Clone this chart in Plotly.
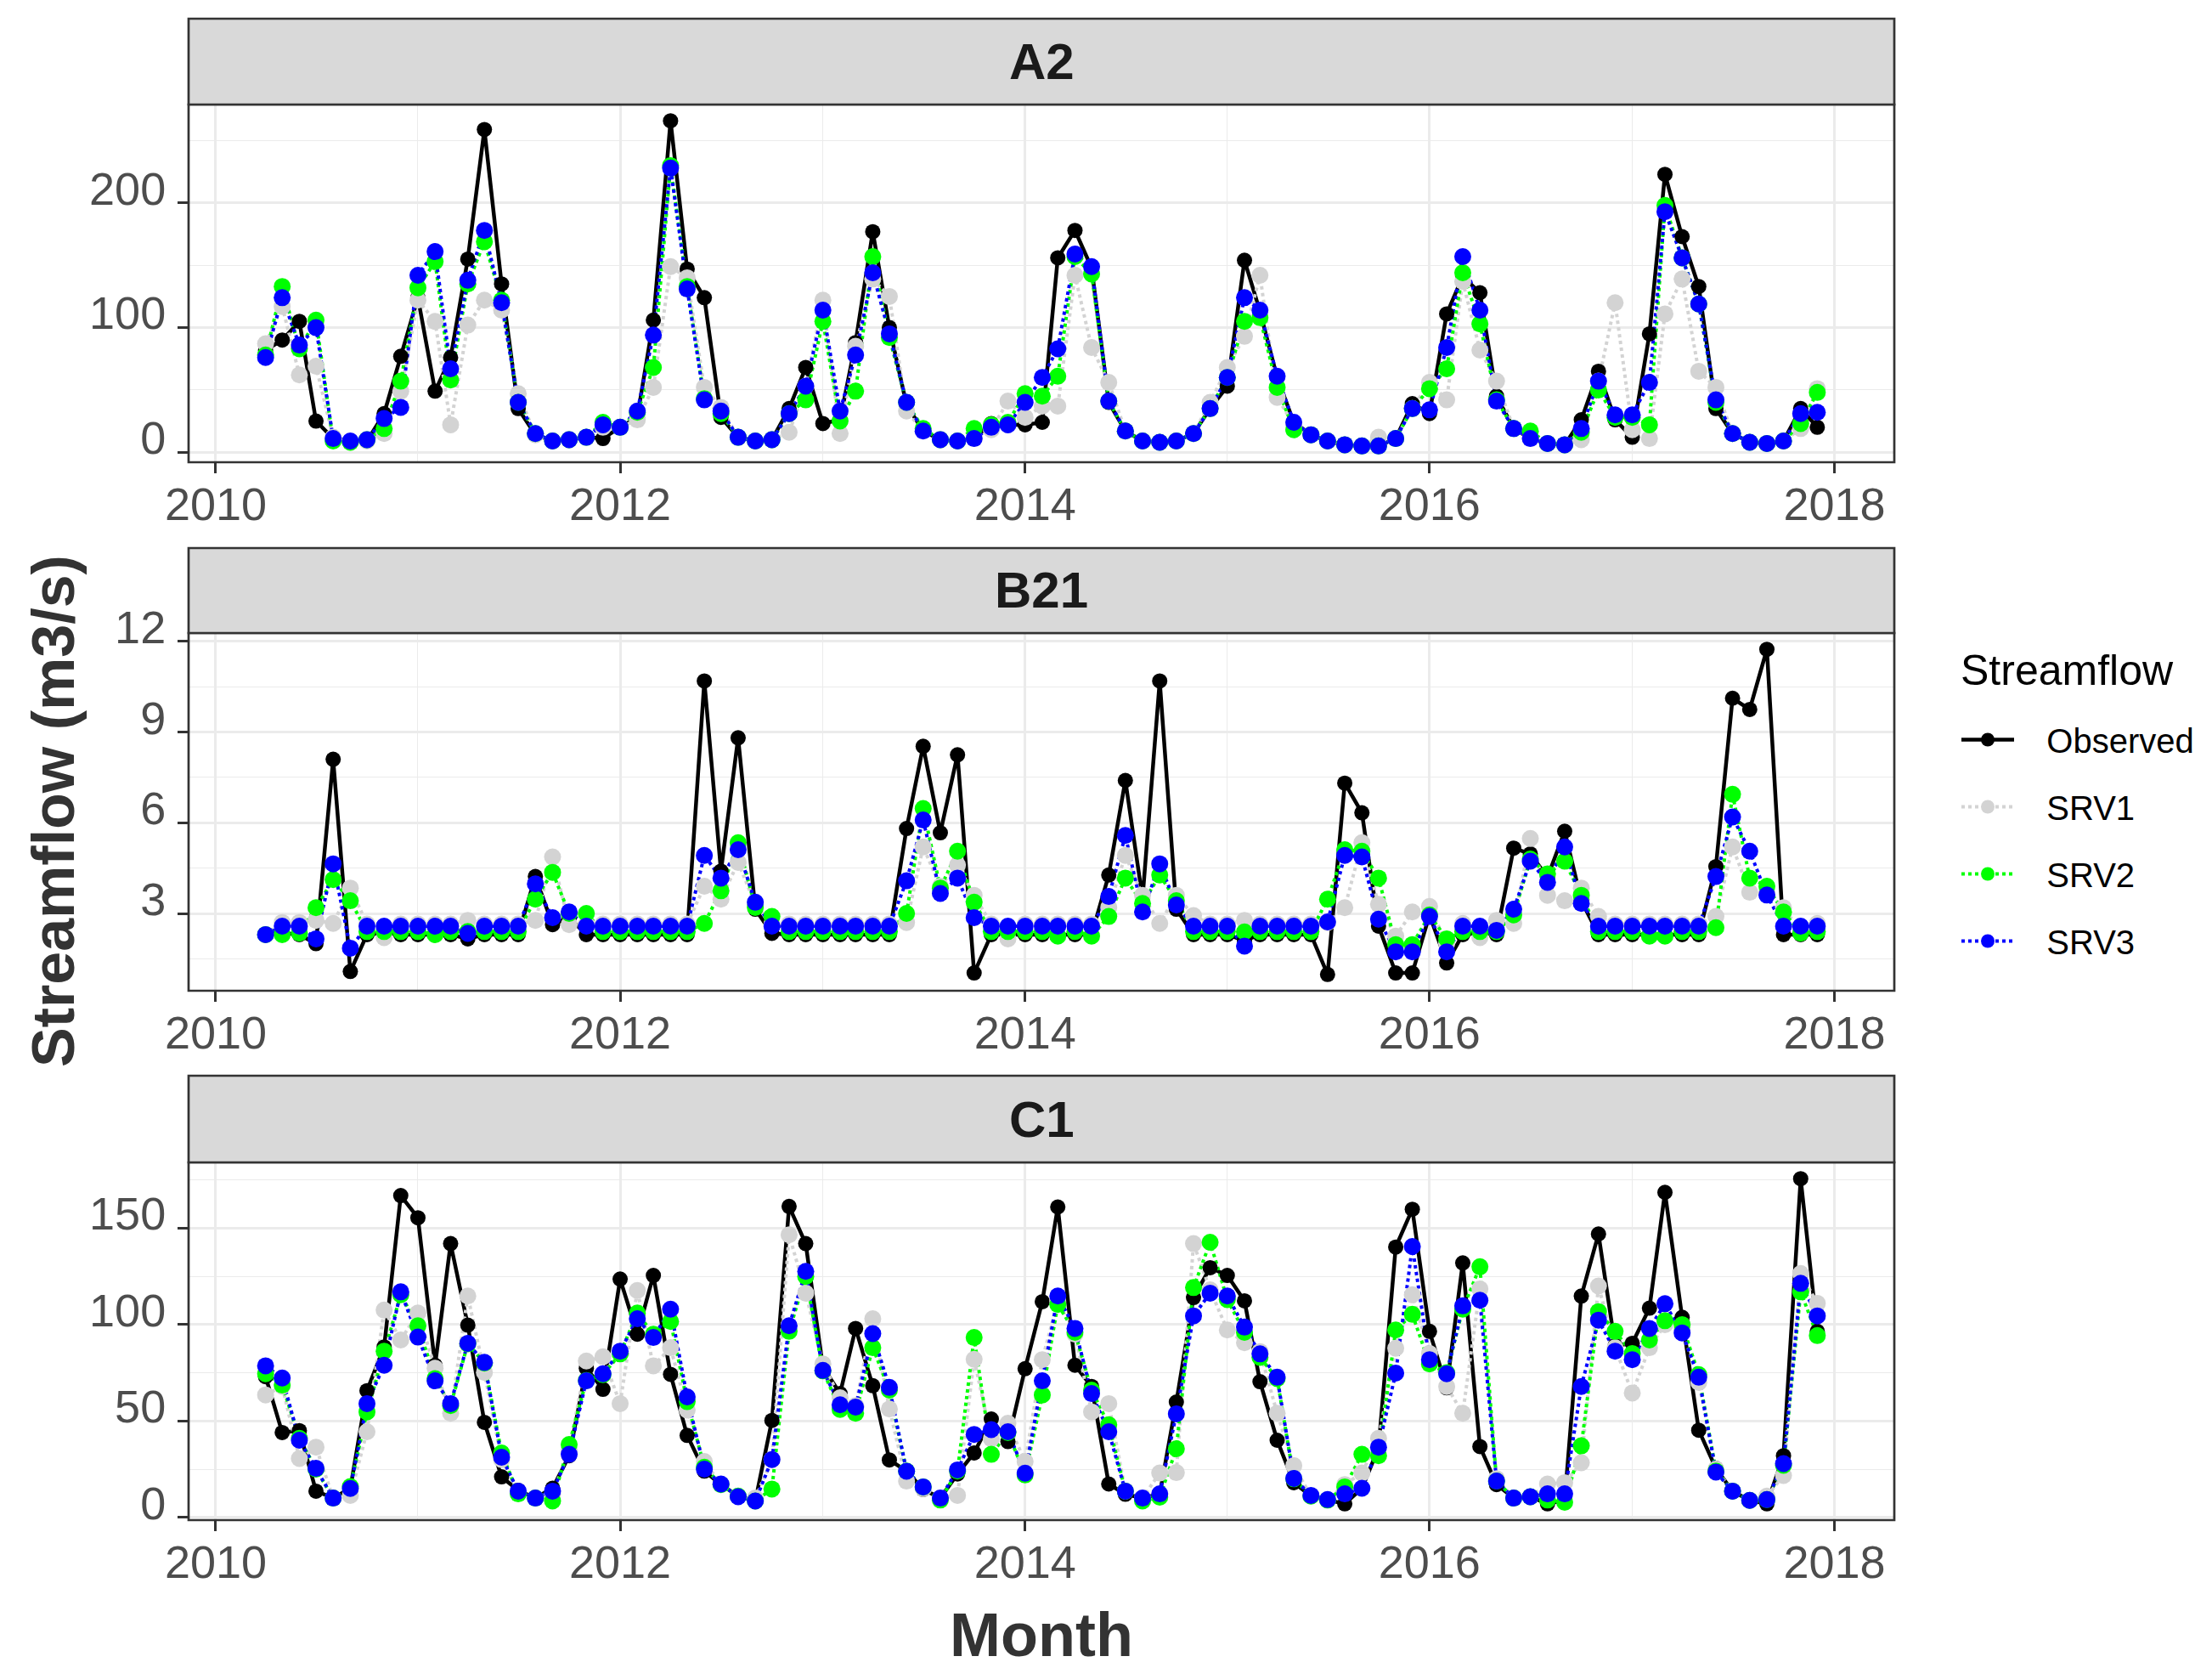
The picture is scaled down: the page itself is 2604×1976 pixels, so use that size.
import pandas as pd
import plotly.graph_objects as go

# ---------------- data (monthly, Apr 2010 - Dec 2017) ----------------
months = pd.date_range("2010-04-01", "2017-12-01", freq="MS")

series_names = ["Observed", "SRV1", "SRV2", "SRV3"]
panel_names = ["A2", "B21", "C1"]

a2_obs = [82, 90, 105, 25, 11, 9, 9, 31, 77, 124, 49, 76, 155, 259, 135, 35, 14, 9, 10, 12, 11,
          20, 28, 106, 266, 147, 124, 28, 12, 9, 10, 35, 68, 23, 26, 88, 177, 100, 38, 17, 10, 9,
          11, 23, 22, 22, 24, 156, 178, 148, 40, 17, 9, 8, 9, 15, 35, 53, 154, 113, 60, 24, 14,
          9, 6, 5, 5, 11, 39, 31, 111, 141, 128, 45, 19, 11, 7, 6, 26, 65, 26, 12, 95, 223, 173,
          133, 35, 15, 8, 7, 9, 35, 20]
a2_srv1 = [87, 117, 62, 69, 12, 8, 9, 15, 49, 122, 105, 22, 102, 122, 114, 47, 14, 9, 10, 12, 20,
           20, 26, 52, 149, 140, 52, 36, 12, 9, 10, 16, 53, 122, 15, 85, 139, 125, 33, 17, 10, 9,
           11, 18, 41, 28, 37, 37, 142, 84, 56, 17, 9, 8, 9, 15, 40, 68, 93, 142, 44, 22, 14,
           9, 6, 5, 12, 11, 35, 56, 42, 137, 82, 57, 19, 11, 7, 6, 10, 57, 120, 18, 11, 111, 139,
           65, 52, 15, 8, 7, 9, 19, 51]
a2_srv2 = [78, 133, 83, 106, 9, 8, 10, 19, 57, 132, 153, 58, 135, 169, 122, 40, 15, 9, 10, 12, 24,
           20, 32, 68, 230, 133, 43, 31, 12, 9, 10, 31, 42, 105, 25, 49, 157, 92, 40, 19, 10, 9,
           19, 22, 24, 47, 45, 61, 157, 143, 41, 17, 9, 8, 9, 15, 35, 60, 105, 108, 52, 18, 14,
           9, 6, 5, 5, 11, 35, 51, 67, 144, 103, 42, 19, 17, 7, 6, 16, 50, 28, 28, 22, 198, 156,
           119, 40, 15, 8, 7, 9, 23, 48]
a2_srv3 = [76, 124, 86, 100, 11, 9, 10, 27, 36, 142, 161, 67, 138, 178, 120, 40, 15, 9, 10, 12, 22,
           20, 33, 94, 228, 131, 42, 33, 12, 9, 10, 31, 53, 114, 33, 78, 144, 95, 40, 17, 10, 9,
           11, 20, 22, 40, 60, 83, 159, 149, 41, 17, 9, 8, 9, 15, 35, 60, 124, 114, 61, 24, 14,
           9, 6, 5, 5, 11, 35, 34, 84, 157, 114, 41, 19, 11, 7, 6, 19, 57, 30, 30, 56, 193, 156,
           119, 42, 15, 8, 7, 9, 31, 32]

b21_obs = [2.3, 2.35, 2.3, 2.0, 8.1, 1.08, 2.3, 2.35, 2.3, 2.3, 2.3, 2.3, 2.16, 2.3, 2.3, 2.3,
           4.22, 2.63, 2.86, 2.3, 2.3, 2.3, 2.3, 2.3, 2.3, 2.3, 10.69, 4.4, 8.81, 3.14, 2.34,
           2.3, 2.3, 2.3, 2.3, 2.3, 2.3, 2.3, 5.81, 8.53, 5.67, 8.25, 1.03, 2.3, 2.3, 2.3, 2.3,
           2.3, 2.3, 2.3, 4.27, 7.4, 3.5, 10.69, 3.14, 2.3, 2.3, 2.3, 2.1, 2.3, 2.3, 2.3, 2.3,
           0.98, 7.31, 6.33, 2.58, 1.03, 1.03, 2.95, 1.36, 2.3, 2.35, 2.3, 5.16, 4.97, 4.2, 5.72,
           3.42, 2.3, 2.3, 2.3, 2.3, 2.3, 2.3, 2.3, 4.55, 10.12, 9.75, 11.74, 2.3, 2.3, 2.3]
b21_srv1 = [2.3, 2.7, 2.7, 2.77, 2.67, 3.84, 2.65, 2.2, 2.65, 2.65, 2.65, 2.65, 2.77, 2.65, 2.65,
            2.65, 2.77, 4.87, 2.63, 2.65, 2.65, 2.65, 2.65, 2.65, 2.65, 2.65, 3.9, 3.47, 4.69, 3.3,
            2.65, 2.65, 2.65, 2.65, 2.65, 2.65, 2.65, 2.65, 2.7, 5.2, 3.9, 4.6, 3.6, 2.65, 2.16,
            2.65, 2.65, 2.65, 2.65, 2.65, 3.2, 4.92, 3.6, 2.67, 3.6, 2.93, 2.65, 2.65, 2.77, 2.65,
            2.65, 2.65, 2.65, 2.7, 3.19, 5.34, 3.3, 2.25, 3.05, 3.23, 2.0, 2.67, 2.2, 2.77, 2.67,
            5.48, 3.6, 3.42, 3.84, 2.9, 2.65, 2.65, 2.65, 2.65, 2.65, 2.65, 2.9, 5.2, 3.7, 3.7,
            3.19, 2.4, 2.67]
b21_srv2 = [2.3, 2.3, 2.35, 3.19, 4.12, 3.42, 2.4, 2.4, 2.4, 2.4, 2.3, 2.4, 2.4, 2.4, 2.4, 2.4,
            3.47, 4.36, 3.0, 3.0, 2.4, 2.4, 2.4, 2.4, 2.4, 2.4, 2.67, 3.75, 5.34, 3.2, 2.9, 2.4,
            2.4, 2.4, 2.4, 2.4, 2.4, 2.4, 3.0, 6.47, 3.84, 5.06, 3.37, 2.4, 2.4, 2.4, 2.4, 2.25,
            2.4, 2.25, 2.9, 4.17, 3.33, 4.27, 3.42, 2.4, 2.4, 2.4, 2.39, 2.4, 2.4, 2.4, 2.4, 3.47,
            5.11, 5.06, 4.17, 1.97, 1.97, 2.95, 2.16, 2.4, 2.4, 2.4, 2.95, 4.8, 4.31, 4.73, 3.6,
            2.4, 2.4, 2.4, 2.25, 2.25, 2.4, 2.4, 2.53, 6.94, 4.17, 3.9, 3.05, 2.35, 2.4]
b21_srv3 = [2.3, 2.58, 2.58, 2.16, 4.64, 1.85, 2.58, 2.58, 2.58, 2.58, 2.58, 2.58, 2.34, 2.58,
            2.58, 2.58, 3.98, 2.86, 3.05, 2.58, 2.58, 2.58, 2.58, 2.58, 2.58, 2.58, 4.92, 4.17,
            5.11, 3.37, 2.58, 2.58, 2.58, 2.58, 2.58, 2.58, 2.58, 2.58, 4.08, 6.09, 3.66, 4.17,
            2.86, 2.58, 2.58, 2.58, 2.58, 2.58, 2.58, 2.58, 3.56, 5.58, 3.05, 4.64, 3.28, 2.58,
            2.58, 2.58, 1.92, 2.58, 2.58, 2.58, 2.58, 2.72, 4.92, 4.87, 2.81, 1.73, 1.73, 2.9,
            1.73, 2.58, 2.58, 2.44, 3.14, 4.73, 4.03, 5.2, 3.33, 2.58, 2.58, 2.58, 2.58, 2.58,
            2.58, 2.58, 4.22, 6.19, 5.06, 3.61, 2.58, 2.58, 2.58]

c1_obs = [73, 44, 45, 13.6, 10, 15, 65.7, 88.4, 166.9, 155.4, 78.9, 142, 99.7, 49.3, 21, 14, 10,
          15.1, 32, 77.4, 66.4, 123.6, 95, 125.5, 74.2, 42.5, 24, 17, 11, 8.5, 50.3, 161.3, 142,
          78, 64.2, 98, 68.3, 29.8, 24, 14.5, 10, 22.5, 33.4, 51, 39.3, 77.1, 111.9, 161, 78.9,
          67.9, 17.3, 12, 10, 12, 59.8, 114, 129.5, 125.5, 112.3, 70.4, 40, 18, 11, 9, 7, 15, 36,
          140.2, 159.8, 96.5, 67.2, 132, 36.7, 17, 10, 10.7, 7, 9, 114.8, 147, 89.1, 90.3, 108.5,
          168.6, 103.8, 45.2, 25.4, 13.6, 8.8, 7, 32, 175.7, 96.5]
c1_srv1 = [63.5, 68, 30.5, 36.4, 10, 11.4, 44.4, 107.5, 92, 106, 77.4, 54, 114.8, 75.2, 30, 13, 10,
           12, 35, 81.1, 83.3, 59, 117.7, 78.6, 88, 55.7, 29, 17, 11, 10, 30, 146.6, 116.3, 79.6,
           62, 58, 103, 56.2, 18.8, 15, 10, 11.4, 82, 40.8, 48.8, 29, 81.8, 112, 95, 54.7, 59,
           13.6, 10, 23, 23.2, 142, 118, 97.2, 90.6, 86, 54, 26.8, 11, 9, 17, 23, 41, 87.7, 115.5,
           85, 67.9, 54, 118.5, 20, 10, 10.7, 17.3, 18, 28.3, 120, 88, 64.5, 88, 100, 98, 70, 25,
           13.6, 8.8, 11, 21.7, 126.5, 111]
c1_srv2 = [74.5, 68.6, 41, 25, 10, 16, 54.7, 86.2, 115.5, 99.4, 72, 58, 90, 80, 33.4, 12.2, 10,
           8.5, 37.8, 71, 74, 84.8, 106, 95, 101.6, 60, 26, 17, 11, 8.5, 14.7, 96.5, 125, 76, 56,
           54, 88, 66, 24, 15.8, 9, 24, 93.3, 32.7, 44, 22, 63.5, 110.4, 96, 66, 48, 13.6, 8.5,
           10.5, 35.6, 119.2, 142.7, 113, 96, 83, 72, 20, 11, 9, 15.8, 32.7, 32, 97.2, 105.3, 79.6,
           75, 108, 130, 18.8, 10, 10.7, 9, 7.8, 37.1, 106.7, 96.5, 85, 92, 102, 100, 74, 24,
           13.6, 8.8, 9.2, 27, 117, 94.3]
c1_srv3 = [78.6, 72.3, 40, 25.4, 10, 15, 59, 78.9, 117, 93.5, 70.8, 59, 90.3, 80.4, 31.2, 13.6,
           10, 13.6, 32.7, 70.8, 74.5, 86.2, 103, 93.3, 108, 62.5, 25, 17.3, 10.7, 8.5, 30, 99.4,
           127.6, 76.2, 58.4, 57.2, 95.3, 67.4, 23.9, 15.8, 10, 24.6, 43, 45.5, 44.4, 22.9, 70.8,
           114.8, 98, 64.2, 44.4, 13.6, 10, 12.2, 53.7, 104.5, 116.3, 114.8, 98.7, 84.8, 72.7,
           20.2, 11.4, 9.2, 12.2, 15.1, 36.4, 74.8, 140.5, 81.8, 74.5, 109.7, 112.6, 18.8, 10,
           10.7, 12.2, 12.2, 67.9, 102.3, 86.2, 81.8, 98, 110.8, 95.7, 72.7, 23.5, 13.6, 8.8, 9.2,
           27.9, 121.4, 104.5]

panel_data = [
    [a2_obs, a2_srv1, a2_srv2, a2_srv3],
    [b21_obs, b21_srv1, b21_srv2, b21_srv3],
    [c1_obs, c1_srv1, c1_srv2, c1_srv3],
]
y_dtick = [100, 3, 50]

# ---------------- styling ----------------
W, H = 2604, 1976
FONT = "Liberation Sans, Arial, sans-serif"
colors = ["#000000", "#D3D3D3", "#00FF00", "#0000FF"]
dashes = ["solid", "dot", "dot", "dot"]
msizes = [18, 20, 20, 20]
lwidths = [4.5, 4, 4, 4]

PX_L, PX_R = 222, 2230
panels_px = [(123, 544), (745, 1166), (1368, 1789)]   # panel top/bottom (px from top)
strips_px = [(22, 123), (645, 745), (1266, 1368)]

def fx(px):
    return px / W

def fy(py):
    return 1 - py / H

fig = go.Figure()

# lines first, then points (like geom_line + geom_point)
for p, series in enumerate(panel_data):
    ax = "" if p == 0 else str(p + 1)
    for s, vals in enumerate(series):
        fig.add_trace(go.Scatter(
            x=months, y=vals, mode="lines", xaxis="x" + ax, yaxis="y" + ax,
            line=dict(color=colors[s], width=lwidths[s], dash=dashes[s]),
            showlegend=False, hoverinfo="skip"))
for p, series in enumerate(panel_data):
    ax = "" if p == 0 else str(p + 1)
    for s, vals in enumerate(series):
        fig.add_trace(go.Scatter(
            x=months, y=vals, mode="markers", xaxis="x" + ax, yaxis="y" + ax,
            marker=dict(color=colors[s], size=msizes[s], line=dict(width=0)),
            name=series_names[s], showlegend=False))

# legend entries
NB = "\u00a0"
for s, name in enumerate(series_names):
    fig.add_trace(go.Scatter(
        x=[None], y=[None], mode="lines+markers", name=NB * 3 + name, legendgroup=name,
        line=dict(color=colors[s], width=lwidths[s], dash=dashes[s]),
        marker=dict(color=colors[s], size=msizes[s])))

layout = dict(
    width=W, height=H, autosize=False,
    margin=dict(l=0, r=0, t=0, b=0, autoexpand=False),
    paper_bgcolor="white", plot_bgcolor="white",
    font=dict(family=FONT, color="#000000"),
    showlegend=True,
    legend=dict(
        x=fx(2304), y=fy(838), xanchor="left", yanchor="top",
        font=dict(size=40, family=FONT, color="#000000"),
        itemwidth=62, tracegroupgap=24, bgcolor="rgba(0,0,0,0)",
    ),
)

shapes = []
annotations = []
for p in range(3):
    ax = "" if p == 0 else str(p + 1)
    top, bot = panels_px[p]
    vals_all = [v for ser in panel_data[p] for v in ser]
    lo, hi = min(vals_all), max(vals_all)
    pad = 0.05 * (hi - lo)
    layout["xaxis" + ax] = dict(
        domain=[fx(PX_L), fx(PX_R)], anchor="y" + ax, type="date",
        range=["2009-11-13", "2018-04-19"],
        tick0="2010-01-01", dtick="M24", tickformat="%Y",
        ticks="outside", ticklen=12, tickwidth=2.5, tickcolor="#333333",
        tickfont=dict(size=54, color="#4D4D4D", family=FONT),
        ticklabelstandoff=-10,
        showgrid=True, gridcolor="#EBEBEB", gridwidth=2.7,
        minor=dict(dtick="M12", showgrid=True, gridcolor="#EBEBEB", gridwidth=1.4),
        showline=False, zeroline=False,
    )
    layout["yaxis" + ax] = dict(
        domain=[fy(bot), fy(top)], anchor="x" + ax,
        range=[lo - pad, hi + pad],
        tick0=0, dtick=y_dtick[p],
        ticks="outside", ticklen=12, tickwidth=2.5, tickcolor="#333333",
        ticklabelshift=-17, ticklabelstandoff=3,
        tickfont=dict(size=54, color="#4D4D4D", family=FONT),
        showgrid=True, gridcolor="#EBEBEB", gridwidth=2.7,
        minor=dict(dtick=y_dtick[p] / 2, showgrid=True, gridcolor="#EBEBEB", gridwidth=1.4),
        showline=False, zeroline=False,
    )
    # panel border
    shapes.append(dict(type="rect", xref="paper", yref="paper",
                       x0=fx(PX_L), x1=fx(PX_R), y0=fy(bot), y1=fy(top),
                       line=dict(color="#333333", width=2.7), layer="above"))
    # strip
    st, sb = strips_px[p]
    shapes.append(dict(type="rect", xref="paper", yref="paper",
                       x0=fx(PX_L), x1=fx(PX_R), y0=fy(sb), y1=fy(st),
                       fillcolor="#D9D9D9", line=dict(color="#333333", width=2.7),
                       layer="above"))
    annotations.append(dict(text="<b>%s</b>" % panel_names[p], xref="paper", yref="paper",
                            x=fx((PX_L + PX_R) / 2), y=fy((st + sb) / 2),
                            xanchor="center", yanchor="middle", showarrow=False,
                            font=dict(size=60, color="#1A1A1A", family=FONT)))

annotations.append(dict(text="Streamflow", xref="paper", yref="paper",
                        x=fx(2306), y=fy(789), xanchor="left", yanchor="middle",
                        showarrow=False,
                        font=dict(size=50, color="#000000", family=FONT)))
annotations.append(dict(text="<b>Month</b>", xref="paper", yref="paper",
                        x=fx((PX_L + PX_R) / 2), y=fy(1924), xanchor="center",
                        yanchor="middle", showarrow=False,
                        font=dict(size=72, color="#333333", family=FONT)))
annotations.append(dict(text="<b>Streamflow (m3/s)</b>", xref="paper", yref="paper",
                        x=fx(63), y=fy(955), xanchor="center", yanchor="middle",
                        textangle=-90, showarrow=False,
                        font=dict(size=70, color="#333333", family=FONT)))

layout["shapes"] = shapes
layout["annotations"] = annotations
fig.update_layout(**layout)

fig.write_html("out.html", config={"displayModeBar": False},
               post_script="document.body.style.margin='0px';")
